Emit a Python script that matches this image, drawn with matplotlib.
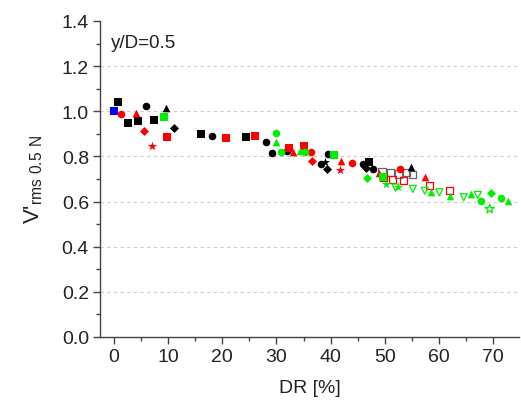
import matplotlib
matplotlib.use("Agg")
import matplotlib.pyplot as plt
from matplotlib.ticker import MultipleLocator

plt.rcParams['font.family'] = ['Liberation Sans', 'DejaVu Sans']
plt.rcParams['mathtext.fontset'] = 'custom'
plt.rcParams['mathtext.rm'] = 'Liberation Sans'

# ---- data (DR [%], V'rms) ----
blk_sq_x = [0.8, 2.5, 4.5, 7.3, 16.0, 24.3, 47.1]
blk_sq_y = [1.04, 0.948, 0.958, 0.963, 0.899, 0.888, 0.774]
blk_ci_x = [5.9, 18.1, 28.0, 29.1, 32.0, 38.3, 39.5, 46.0, 47.8]
blk_ci_y = [1.022, 0.889, 0.865, 0.815, 0.826, 0.767, 0.811, 0.765, 0.744]
blk_tr_x = [9.5, 54.9]
blk_tr_y = [1.013, 0.752]
blk_di_x = [11.0, 39.4, 46.5]
blk_di_y = [0.925, 0.744, 0.750]
blk_st_x = [38.9]
blk_st_y = [0.775]
blu_sq_x = [0.0]
blu_sq_y = [1.003]
red_sq_x = [9.7, 20.7, 26.1, 32.3, 35.1]
red_sq_y = [0.887, 0.880, 0.892, 0.836, 0.848]
red_ci_x = [1.2, 36.3, 44.0, 52.8]
red_ci_y = [0.987, 0.821, 0.771, 0.744]
red_tr_x = [4.0, 33.0, 42.0, 49.0, 57.4]
red_tr_y = [0.992, 0.818, 0.781, 0.725, 0.707]
red_di_x = [5.5, 36.6]
red_di_y = [0.914, 0.781]
red_st_x = [7.0, 41.8]
red_st_y = [0.848, 0.740]
grn_sq_x = [9.3, 40.6, 49.7]
grn_sq_y = [0.973, 0.808, 0.707]
grn_ci_x = [30.0, 30.8, 35.2, 67.8, 71.4]
grn_ci_y = [0.902, 0.821, 0.818, 0.601, 0.614]
grn_tr_x = [29.9, 34.3, 58.6, 62.0, 66.0, 72.7]
grn_tr_y = [0.862, 0.826, 0.641, 0.626, 0.634, 0.604]
grn_di_x = [46.8, 69.7]
grn_di_y = [0.704, 0.638]
grn_st_x = [50.3, 52.5]
grn_st_y = [0.678, 0.663]
gry_open_x = [49.5, 51.0, 52.5, 54.0, 55.2]
gry_open_y = [0.735, 0.728, 0.722, 0.730, 0.718]
red_open_x = [49.8, 51.5, 53.5, 58.3, 62.0]
red_open_y = [0.705, 0.698, 0.692, 0.671, 0.648]
grn_open_x = [52.0, 55.2, 57.4, 60.1, 64.6, 67.2]
grn_open_y = [0.662, 0.656, 0.648, 0.641, 0.619, 0.629]
grn_open_st_x = [69.4]
grn_open_st_y = [0.567]

fig = plt.figure(figsize=(5.21, 4.14), dpi=100)
ax = fig.add_axes([0.192, 0.1836, 0.804, 0.7634])

GREEN = '#00ee00'
S = 30
filled = [
    (blk_sq_x, blk_sq_y, 's', 'black'), (blk_ci_x, blk_ci_y, 'o', 'black'),
    (blk_tr_x, blk_tr_y, '^', 'black'), (blk_di_x, blk_di_y, 'D', 'black'),
    (blk_st_x, blk_st_y, '*', 'black'), (blu_sq_x, blu_sq_y, 's', 'blue'),
    (red_sq_x, red_sq_y, 's', 'red'), (red_ci_x, red_ci_y, 'o', 'red'),
    (red_tr_x, red_tr_y, '^', 'red'), (red_di_x, red_di_y, 'D', 'red'),
    (red_st_x, red_st_y, '*', 'red'), (grn_sq_x, grn_sq_y, 's', GREEN),
    (grn_ci_x, grn_ci_y, 'o', GREEN), (grn_tr_x, grn_tr_y, '^', GREEN),
    (grn_di_x, grn_di_y, 'D', GREEN), (grn_st_x, grn_st_y, '*', GREEN),
]
opens = [
    (gry_open_x, gry_open_y, 's', '#666666'),
    (red_open_x, red_open_y, 's', 'red'),
    (grn_open_x, grn_open_y, 'v', GREEN),
    (grn_open_st_x, grn_open_st_y, '*', GREEN),
]
for x, y, m, c in opens:
    ax.scatter(x, y, marker=m, s=S * 0.85 if m != '*' else S * 1.6, facecolors='none',
               edgecolors=c, linewidths=0.9, zorder=3)
for x, y, m, c in filled:
    size = S
    if m == 'D':
        size = S * 0.7
    elif m == '*':
        size = S * 1.6
    ax.scatter(x, y, marker=m, s=size, color=c, linewidths=0, zorder=4)

ax.set_xlim(-2.6, 74.8)
ax.set_ylim(0.0, 1.4)
ax.xaxis.set_major_locator(MultipleLocator(10))
ax.xaxis.set_minor_locator(MultipleLocator(5))
ax.yaxis.set_major_locator(MultipleLocator(0.2))
ax.yaxis.set_minor_locator(MultipleLocator(0.1))
ax.yaxis.set_major_formatter(matplotlib.ticker.FormatStrFormatter('%.1f'))
for y in [0.2, 0.4, 0.6, 0.8, 1.0, 1.2]:
    ax.axhline(y, color='#cccccc', lw=0.8, ls=(0, (3, 3)), zorder=1)

ax.spines['top'].set_visible(False)
ax.spines['right'].set_visible(False)
for sp in ['left', 'bottom']:
    ax.spines[sp].set_color('#444444')
    ax.spines[sp].set_linewidth(1.0)
ax.tick_params(which='major', direction='out', length=5, width=1, color='#444444',
               labelsize=14, labelcolor='#222222', pad=3)
ax.tick_params(which='minor', direction='out', length=3, width=1, color='#444444')

ax.set_xlabel('DR [%]', fontsize=14, color='#222222', labelpad=10)
ax.set_ylabel(r"V'$_{\mathregular{rms\ 0.5\ N}}$", fontsize=16, color='#222222', labelpad=12)
ax.text(0.025, 0.96, 'y/D=0.5', transform=ax.transAxes, fontsize=13.5,
        color='#222222', ha='left', va='top')

fig.savefig('out.png', dpi=100)
